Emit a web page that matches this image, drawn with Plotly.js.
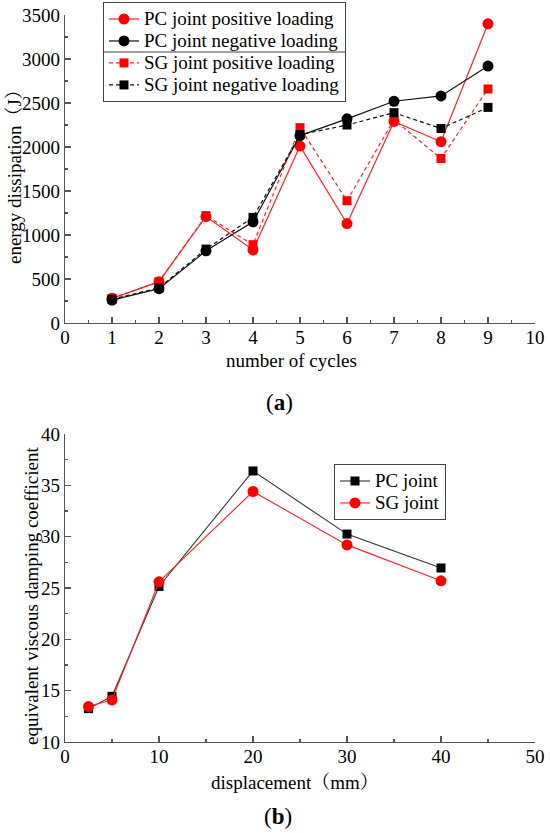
<!DOCTYPE html>
<html>
<head>
<meta charset="utf-8">
<script src="https://cdn.plot.ly/plotly-3.0.1.min.js"></script>
<style>html,body{margin:0;padding:0;background:#fff;}</style>
</head>
<body>
<div id="chart" style="width:550px;height:833px;"></div>
<script>
// ---- Chart (a): energy dissipation ----
const cycles = [1, 2, 3, 4, 5, 6, 7, 8, 9];
const pcPositive = [280, 470, 1210, 830, 2010, 1130, 2290, 2060, 3400];
const pcNegative = [260, 390, 820, 1150, 2130, 2320, 2520, 2580, 2920];
const sgPositive = [280, 470, 1220, 890, 2220, 1390, 2310, 1870, 2660];
const sgNegative = [270, 400, 840, 1200, 2140, 2250, 2390, 2210, 2450];
const seriesNamesA = ['PC joint positive loading', 'PC joint negative loading',
                      'SG joint positive loading', 'SG joint negative loading'];
const xTitleA = 'number of cycles';
const yTitleA = 'energy dissipation（J）';
const panelA = '(<b>a</b>)';

// ---- Chart (b): equivalent viscous damping coefficient ----
const displacement = [2.5, 5, 10, 20, 30, 40];
const pcJoint = [13.25, 14.45, 25.15, 36.4, 30.25, 26.95];
const sgJoint = [13.45, 14.1, 25.6, 34.4, 29.2, 25.7];
const seriesNamesB = ['PC joint', 'SG joint'];
const xTitleB = 'displacement（mm）';
const yTitleB = 'equivalent viscous damping coefficient';
const panelB = '(<b>b</b>)';

const W = 550, H = 833;
const serif = 'Liberation Serif, "Times New Roman", "Noto Serif CJK SC", "Noto Sans CJK SC", serif';
const axisCol = '#555';
const big = s => '<span style="font-size:19px">' + s + '</span>';
const px = v => v / W;
const py = v => 1 - v / H;

const traces = [
  {x: cycles, y: pcPositive, name: big(seriesNamesA[0]), type: 'scatter', mode: 'lines+markers',
   line: {color: '#ff2020', width: 1.2}, marker: {symbol: 'circle', size: 11, color: '#ff0000'},
   xaxis: 'x', yaxis: 'y', legend: 'legend'},
  {x: cycles, y: pcNegative, name: big(seriesNamesA[1]), type: 'scatter', mode: 'lines+markers',
   line: {color: '#111', width: 1.2}, marker: {symbol: 'circle', size: 11, color: '#000'},
   xaxis: 'x', yaxis: 'y', legend: 'legend'},
  {x: cycles, y: sgPositive, name: big(seriesNamesA[2]), type: 'scatter', mode: 'lines+markers',
   line: {color: '#ff2020', width: 1.2, dash: '4px,3px'}, marker: {symbol: 'square', size: 9, color: '#ff0000'},
   xaxis: 'x', yaxis: 'y', legend: 'legend'},
  {x: cycles, y: sgNegative, name: big(seriesNamesA[3]), type: 'scatter', mode: 'lines+markers',
   line: {color: '#111', width: 1.2, dash: '4px,3px'}, marker: {symbol: 'square', size: 9, color: '#000'},
   xaxis: 'x', yaxis: 'y', legend: 'legend'},
  {x: displacement, y: pcJoint, name: big(seriesNamesB[0]), type: 'scatter', mode: 'lines+markers',
   line: {color: '#333', width: 1.1}, marker: {symbol: 'square', size: 9, color: '#000'},
   xaxis: 'x2', yaxis: 'y2', legend: 'legend2'},
  {x: displacement, y: sgJoint, name: big(seriesNamesB[1]), type: 'scatter', mode: 'lines+markers',
   line: {color: '#ff2020', width: 1.1}, marker: {symbol: 'circle', size: 11, color: '#ff0000'},
   xaxis: 'x2', yaxis: 'y2', legend: 'legend2'}
];

function axis(extra) {
  return Object.assign({
    showline: true, linecolor: axisCol, linewidth: 1.3, mirror: false,
    ticks: 'inside', ticklen: 6, tickwidth: 1.2, tickcolor: axisCol,
    showgrid: false, zeroline: false, fixedrange: true,
    tickfont: {family: serif, size: 19, color: '#000'}
  }, extra);
}

const titleFont = {family: serif, size: 19, color: '#000'};
const legendBase = {
  font: {family: serif, size: 14.6, color: '#000'},
  bgcolor: 'rgba(255,255,255,0)', bordercolor: '#444', borderwidth: 1,
  xanchor: 'left', yanchor: 'top', tracegroupgap: 0, itemwidth: 30
};

function ann(text, x, y, extra) {
  return Object.assign({text: text, xref: 'paper', yref: 'paper', x: px(x), y: py(y),
    xanchor: 'center', yanchor: 'middle', showarrow: false, font: titleFont}, extra || {});
}

const layout = {
  width: W, height: H,
  margin: {l: 0, r: 0, t: 0, b: 0},
  paper_bgcolor: '#fff', plot_bgcolor: '#fff',
  xaxis: axis({domain: [px(65), px(535)], range: [0, 10], dtick: 1, tick0: 0, anchor: 'y',
    ticklabelstandoff: -3,
    minor: {ticks: 'inside', ticklen: 3, dtick: 0.5, tickcolor: axisCol}}),
  yaxis: axis({domain: [py(323), py(15)], range: [0, 3500], dtick: 500, tick0: 0, anchor: 'x',
    minor: {ticks: 'inside', ticklen: 3, dtick: 250, tickcolor: axisCol}}),
  xaxis2: axis({domain: [px(65), px(535)], range: [0, 50], dtick: 10, tick0: 0, anchor: 'y2',
    ticklabelstandoff: -3,
    minor: {ticks: 'inside', ticklen: 3, dtick: 5, tickcolor: axisCol}}),
  yaxis2: axis({domain: [py(742), py(434)], range: [10, 40], dtick: 5, tick0: 10, anchor: 'x2',
    minor: {ticks: 'inside', ticklen: 3, dtick: 2.5, tickcolor: axisCol}}),
  showlegend: true,
  legend: Object.assign({}, legendBase, {x: px(103), y: py(2)}),
  legend2: Object.assign({}, legendBase, {x: px(334), y: py(464)}),
  annotations: [
    ann(xTitleA, 291, 361),
    ann(yTitleA, 14, 172, {textangle: -90}),
    ann(xTitleB, 295, 782),
    ann(yTitleB, 31, 596, {textangle: -90}),
    ann(panelA, 279, 403, {font: {family: serif, size: 23, color: '#000'}}),
    ann(panelB, 278, 816, {font: {family: serif, size: 23, color: '#000'}})
  ]
};

Plotly.newPlot('chart', traces, layout, {staticPlot: true, displayModeBar: false}).then(gd => {
  // divider between the PC and SG groups of legend (a), spanning the legend box width
  const L = gd._fullLayout.legend;
  const w = L._width || 240;
  const y0 = py(2 + 1 + 5 + 2 * 22);
  Plotly.relayout(gd, {shapes: [{type: 'line', xref: 'paper', yref: 'paper',
    x0: px(103), x1: px(103 + w), y0: y0, y1: y0, line: {color: '#444', width: 1}}]});
});
</script>
</body>
</html>
